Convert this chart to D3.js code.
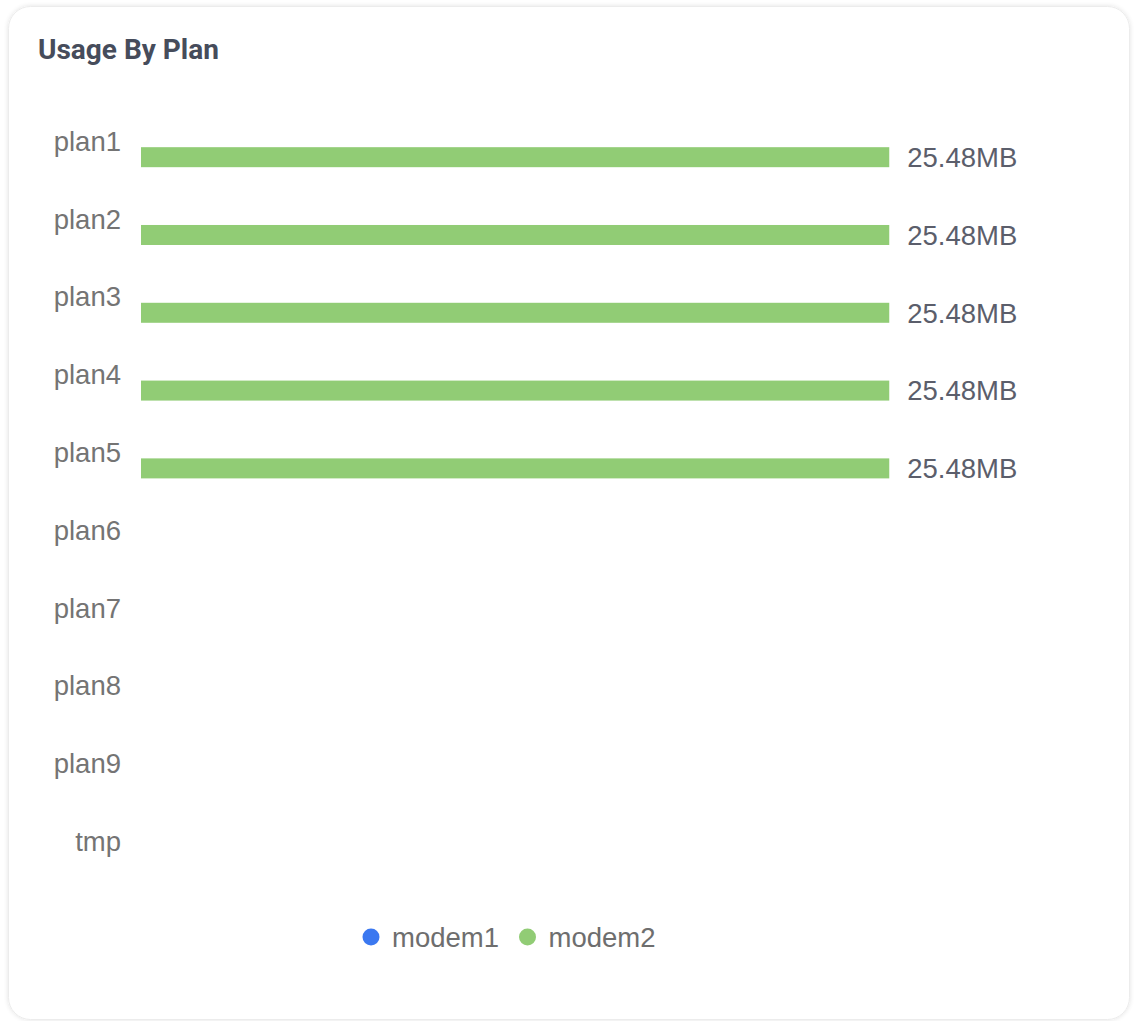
<!DOCTYPE html>
<html>
<head>
<meta charset="utf-8">
<script src="https://cdn.jsdelivr.net/npm/d3@7"></script>
<style>
  html, body { margin: 0; padding: 0; background: #ffffff; }
</style>
</head>
<body>
<div id="chart"></div>
<script>
// data
const plans = ["plan1", "plan2", "plan3", "plan4", "plan5", "plan6", "plan7", "plan8", "plan9", "tmp"];
const seriesNames = ["modem1", "modem2"];
const seriesColors = ["#3b78f0", "#91cc75"];
const modem1Values = [null, null, null, null, null, null, null, null, null, null];
const modem2Values = [25.48, 25.48, 25.48, 25.48, 25.48, null, null, null, null, null];
const xMax = 30;
const unit = "MB";

window.addEventListener("load", function () {
    drawChart();
});

function drawChart() {
    const width = 1134, height = 1021;
    const labelFont = "'Liberation Sans', Arial, sans-serif";

    const svg = d3.select("#chart")
        .append("svg")
        .attr("width", width)
        .attr("height", height);

    // card with soft shadow
    const defs = svg.append("defs");
    const f = defs.append("filter").attr("id", "shadow")
        .attr("x", "-5%").attr("y", "-5%").attr("width", "110%").attr("height", "110%");
    f.append("feGaussianBlur").attr("in", "SourceAlpha").attr("stdDeviation", 2.5);
    f.append("feOffset").attr("dx", 0).attr("dy", 0).attr("result", "b");
    f.append("feComponentTransfer").append("feFuncA").attr("type", "linear").attr("slope", 0.12);
    const m = f.append("feMerge");
    m.append("feMergeNode");
    m.append("feMergeNode").attr("in", "SourceGraphic");

    svg.append("rect")
        .attr("x", 8.5).attr("y", 6.5)
        .attr("width", 1121).attr("height", 1013)
        .attr("rx", 22).attr("ry", 22)
        .attr("fill", "#ffffff")
        .attr("stroke", "#ececec")
        .attr("filter", "url(#shadow)");

    // title
    svg.append("text")
        .attr("x", 38).attr("y", 59)
        .style("font-family", "Roboto, sans-serif")
        .style("font-weight", "bold")
        .style("font-size", "28px")
        .style("fill", "#464c5b")
        .text("Usage By Plan");

    // scales
    const y = d3.scaleBand()
        .domain(plans)
        .range([102, 880])
        .padding(0);

    const barH = 20, barGap = 0.3;
    const half = barH * (2 - barGap) / (1 - barGap) / 2;
    const ySub = d3.scaleBand()
        .domain(seriesNames)
        .range([y.bandwidth() / 2 - half + 2, y.bandwidth() / 2 + half + 2])
        .paddingInner(barGap);

    const x = d3.scaleLinear()
        .domain([0, xMax])
        .range([141, 1022]);

    // category axis
    const yAxis = svg.append("g")
        .attr("transform", "translate(121,0)")
        .call(d3.axisLeft(y).tickSize(0).tickPadding(0));
    yAxis.select(".domain").remove();
    yAxis.selectAll("text")
        .attr("dy", "0.36em")
        .style("font-family", labelFont)
        .style("font-size", "27.5px")
        .style("fill", "#747474");

    // bars
    const allSeries = [modem1Values, modem2Values];
    allSeries.forEach((vals, si) => {
        const rows = plans.map((p, i) => ({ plan: p, value: vals[i] }))
            .filter(d => d.value != null);
        const g = svg.append("g");
        g.selectAll("rect")
            .data(rows)
            .enter()
            .append("rect")
            .attr("x", x(0))
            .attr("y", d => y(d.plan) + ySub(seriesNames[si]))
            .attr("width", d => x(d.value) - x(0))
            .attr("height", ySub.bandwidth())
            .attr("fill", seriesColors[si]);

        g.selectAll("text")
            .data(rows)
            .enter()
            .append("text")
            .attr("x", d => x(d.value) + 18)
            .attr("y", d => y(d.plan) + ySub(seriesNames[si]) + ySub.bandwidth() / 2)
            .attr("dy", "0.36em")
            .style("font-family", labelFont)
            .style("font-size", "27.5px")
            .style("fill", "#5b5e6b")
            .text(d => d.value.toFixed(2) + unit);
    });

    // legend
    const legend = svg.append("g");
    let lx = 0;
    seriesNames.forEach((name, i) => {
        const item = legend.append("g").attr("transform", `translate(${lx},0)`);
        item.append("circle")
            .attr("cx", 8.5).attr("cy", 0).attr("r", 8.5)
            .attr("fill", seriesColors[i]);
        const t = item.append("text")
            .attr("x", 29.5).attr("y", 0)
            .attr("dy", "0.36em")
            .style("font-family", labelFont)
            .style("font-size", "27.5px")
            .style("fill", "#6e6e6e")
            .text(name);
        lx += 29.5 + t.node().getComputedTextLength() + 20;
    });
    const legendW = lx - 20;
    legend.attr("transform", `translate(${509 - legendW / 2},937)`);
}
</script>
</body>
</html>
